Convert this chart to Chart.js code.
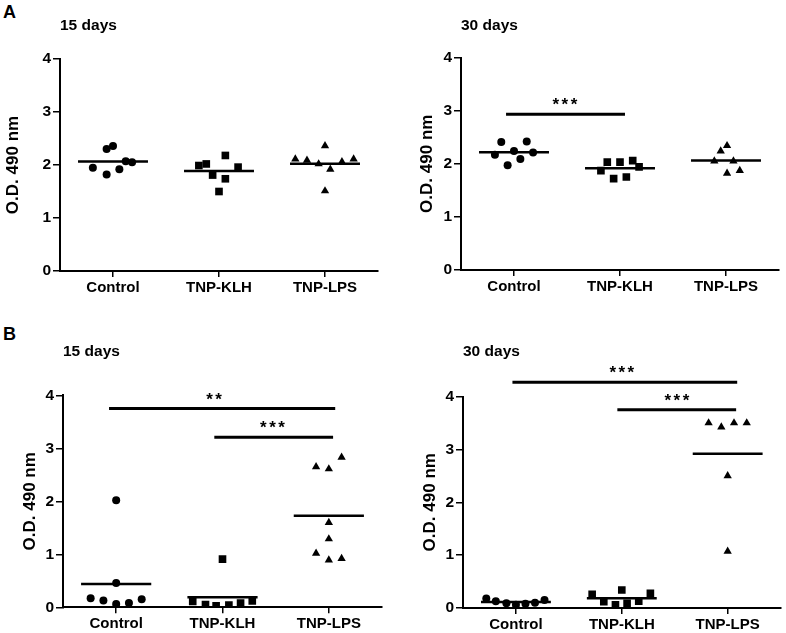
<!DOCTYPE html>
<html>
<head>
<meta charset="utf-8">
<script src="https://cdn.jsdelivr.net/npm/chart.js@4.4.1/dist/chart.umd.min.js"></script>
<style>
  html, body { margin: 0; padding: 0; background: #fff; }
  #fig { position: relative; width: 786px; height: 633px; overflow: hidden;
         font-family: "Liberation Sans", Arial, sans-serif; }
  #fig canvas { position: absolute; }
  .letter { position: absolute; font-weight: bold; font-size: 18px; line-height: 18px; color: #000; }
</style>
</head>
<body>
<div id="fig">
  <div class="letter" style="left:3px;top:3px">A</div>
  <div class="letter" style="left:3px;top:325px">B</div>
  <canvas id="a15" width="393" height="316" style="left:0;top:0"></canvas>
  <canvas id="a30" width="393" height="316" style="left:393px;top:0"></canvas>
  <canvas id="b15" width="393" height="317" style="left:0;top:316px"></canvas>
  <canvas id="b30" width="393" height="317" style="left:393px;top:316px"></canvas>
</div>
<script>
const groups = ['Control', 'TNP-KLH', 'TNP-LPS']

// A - 15 days (values, and horizontal spread of each point within its group)
const a15Control = [2.30, 2.36, 1.95, 1.82, 1.92, 2.07, 2.05]
const a15ControlX = [-0.06, 0.00, -0.19, -0.06, 0.06, 0.12, 0.18]
const a15Klh = [1.99, 2.02, 2.18, 1.81, 1.74, 1.50, 1.96]
const a15KlhX = [-0.19, -0.12, 0.06, -0.06, 0.06, 0.00, 0.18]
const a15Lps = [2.11, 2.09, 2.02, 2.36, 1.92, 2.06, 2.11, 1.51]
const a15LpsX = [-0.28, -0.17, -0.06, 0.00, 0.05, 0.16, 0.27, 0.00]

// A - 30 days
const a30Control = [2.41, 2.42, 2.17, 2.24, 2.21, 1.97, 2.09]
const a30ControlX = [-0.12, 0.12, -0.18, 0.00, 0.18, -0.06, 0.06]
const a30Klh = [2.03, 2.03, 2.06, 1.87, 1.94, 1.72, 1.75]
const a30KlhX = [-0.12, 0.00, 0.12, -0.18, 0.18, -0.06, 0.06]
const a30Lps = [2.34, 2.24, 2.05, 2.05, 1.82, 1.87]
const a30LpsX = [0.01, -0.05, -0.11, 0.07, 0.01, 0.13]

// B - 15 days
const b15Control = [2.02, 0.46, 0.17, 0.13, 0.06, 0.08, 0.15]
const b15ControlX = [0.00, 0.00, -0.24, -0.12, 0.00, 0.12, 0.24]
const b15Klh = [0.91, 0.11, 0.05, 0.03, 0.04, 0.08, 0.12]
const b15KlhX = [0.00, -0.28, -0.16, -0.06, 0.06, 0.17, 0.28]
const b15Lps = [2.65, 2.61, 2.83, 1.60, 1.29, 1.02, 0.89, 0.92]
const b15LpsX = [-0.12, 0.00, 0.12, 0.00, 0.00, -0.12, 0.00, 0.12]

// B - 30 days
const b30Control = [0.18, 0.13, 0.09, 0.06, 0.08, 0.10, 0.15]
const b30ControlX = [-0.28, -0.19, -0.09, 0.00, 0.09, 0.18, 0.27]
const b30Klh = [0.26, 0.12, 0.06, 0.34, 0.09, 0.13, 0.28]
const b30KlhX = [-0.28, -0.17, -0.06, 0.00, 0.05, 0.16, 0.27]
const b30Lps = [3.50, 3.42, 3.50, 3.50, 2.50, 1.07]
const b30LpsX = [-0.18, -0.06, 0.06, 0.18, 0.00, 0.00]

// significance brackets: from / to (group units), height, label, label position
const sigA30 = [{ from: -0.075, to: 1.047, y: 2.93, label: '***', at: 0.48 }]
const sigB15 = [
  { from: -0.067, to: 2.06, y: 3.75, label: '**', at: 0.92 },
  { from: 0.923, to: 2.04, y: 3.21, label: '***', at: 1.47 }
]
const sigB30 = [
  { from: -0.033, to: 2.09, y: 4.27, label: '***', at: 1.0 },
  { from: 0.958, to: 2.08, y: 3.75, label: '***', at: 1.52 }
]

const FONT = '"Liberation Sans", Arial, sans-serif'
const markers = ['circle', 'rect', 'triangle']
const markerRadius = [4.0, 5.4, 4.8]

const mean = arr => arr.reduce((s, v) => s + v, 0) / arr.length

// draws the asterisks above the brackets
const sigLabels = {
  id: 'sigLabels',
  afterDatasetsDraw(chart, args, opts) {
    const { ctx, scales: { x, y } } = chart
    ctx.save()
    ctx.font = 'bold 17px ' + FONT
    ctx.letterSpacing = '2.5px'
    ctx.textAlign = 'center'
    ctx.textBaseline = 'alphabetic'
    ctx.fillStyle = '#000'
    ;(opts.bars || []).forEach(b => {
      ctx.fillText(b.label, x.getPixelForValue(b.at) + 1.25, y.getPixelForValue(b.y) - 4)
    })
    ctx.restore()
  }
}

function buildPanel(id, title, series, spread, sig, box) {
  const canvas = document.getElementById(id)
  const datasets = []

  series.forEach((vals, gi) => {
    datasets.push({
      data: vals.map((v, k) => ({ x: gi + spread[gi][k], y: v })),
      showLine: false,
      pointStyle: markers[gi],
      pointRadius: markerRadius[gi],
      backgroundColor: '#000',
      borderColor: '#000',
      borderWidth: 0
    })
    const m = mean(vals)
    datasets.push({
      data: [{ x: gi - 0.33, y: m }, { x: gi + 0.33, y: m }],
      showLine: true,
      borderColor: '#000',
      borderWidth: 2.5,
      pointRadius: 0
    })
  })

  sig.forEach(b => {
    datasets.push({
      data: [{ x: b.from, y: b.y }, { x: b.to, y: b.y }],
      showLine: true,
      borderColor: '#000',
      borderWidth: 3,
      pointRadius: 0,
      clip: false
    })
  })

  const titleLine = 15.5 * 1.2
  const titlePadTop = box.titleY - titleLine / 2

  return new Chart(canvas, {
    type: 'scatter',
    data: { datasets },
    plugins: [sigLabels],
    options: {
      responsive: false,
      animation: false,
      events: [],
      layout: { padding: { left: 0, top: 0, right: canvas.width - box.right, bottom: 0 } },
      plugins: {
        legend: { display: false },
        tooltip: { enabled: false },
        title: {
          display: true,
          text: title,
          align: 'start',
          fullSize: false,
          color: '#000',
          font: { family: FONT, size: 15.5, weight: 'bold', lineHeight: 1.2 },
          padding: { top: titlePadTop, bottom: box.top - titlePadTop - titleLine }
        },
        sigLabels: { bars: sig }
      },
      scales: {
        x: {
          type: 'linear',
          min: -0.5,
          max: 2.5,
          afterBuildTicks: s => { s.ticks = groups.map((g, i) => ({ value: i })) },
          afterFit: s => { s.height = canvas.height - box.bottom },
          ticks: {
            callback: v => groups[v],
            autoSkip: false,
            maxRotation: 0,
            padding: 2,
            color: '#000',
            font: { family: FONT, size: 15, weight: 'bold' }
          },
          grid: { display: true, drawOnChartArea: false, drawTicks: true, tickLength: 6, color: '#000', lineWidth: 1.5 },
          border: { display: true, color: '#000', width: 2 }
        },
        y: {
          min: 0,
          max: 4,
          afterFit: s => { s.width = box.left },
          ticks: {
            stepSize: 1,
            padding: 2,
            color: '#000',
            font: { family: FONT, size: 15.5, weight: 'bold' }
          },
          grid: { display: true, drawOnChartArea: false, drawTicks: true, tickLength: 7, color: '#000', lineWidth: 1.5 },
          border: { display: true, color: '#000', width: 2 },
          title: {
            display: true,
            text: 'O.D. 490 nm',
            color: '#000',
            font: { family: FONT, size: 17, weight: 'bold', lineHeight: 1.2 },
            padding: { top: box.yTitleX - 10.2, bottom: 0 }
          }
        }
      }
    }
  })
}

buildPanel('a15', '15 days',
  [a15Control, a15Klh, a15Lps], [a15ControlX, a15KlhX, a15LpsX], [],
  { left: 60, right: 378, top: 59, bottom: 271, titleY: 26, yTitleX: 13.5 })

buildPanel('a30', '30 days',
  [a30Control, a30Klh, a30Lps], [a30ControlX, a30KlhX, a30LpsX], sigA30,
  { left: 68, right: 386, top: 57.5, bottom: 270, titleY: 26, yTitleX: 34.5 })

buildPanel('b15', '15 days',
  [b15Control, b15Klh, b15Lps], [b15ControlX, b15KlhX, b15LpsX], sigB15,
  { left: 63, right: 382, top: 79.3, bottom: 291.3, titleY: 36, yTitleX: 30 })

buildPanel('b30', '30 days',
  [b30Control, b30Klh, b30Lps], [b30ControlX, b30KlhX, b30LpsX], sigB30,
  { left: 70, right: 389.5, top: 80.5, bottom: 292, titleY: 36, yTitleX: 37 })
</script>
</body>
</html>
